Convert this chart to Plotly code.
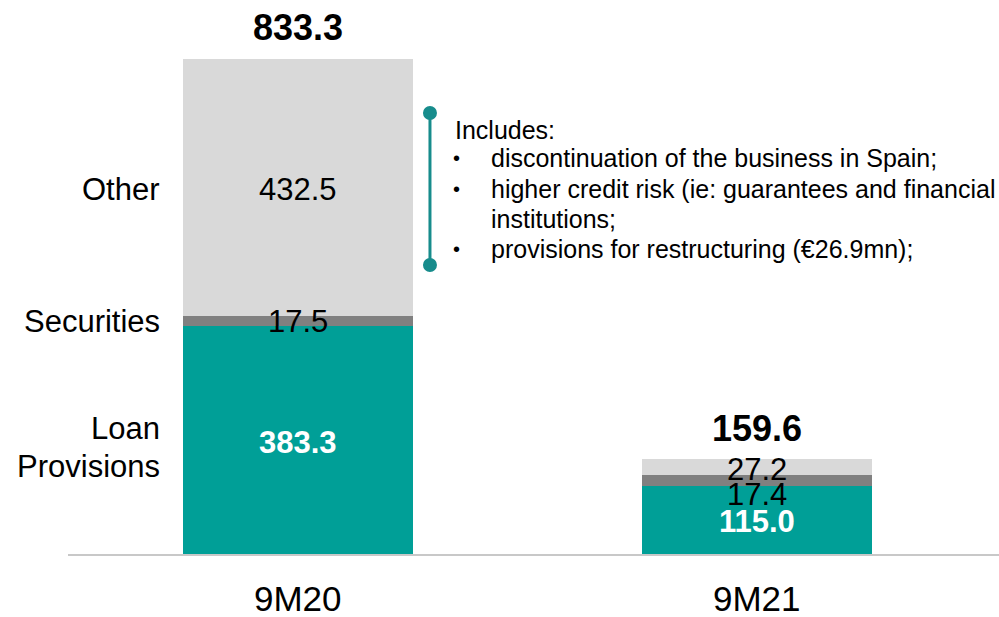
import plotly.graph_objects as go

# Data
periods = ["9M20", "9M21"]
loan_provisions = [383.3, 115.0]
securities = [17.5, 17.4]
other = [432.5, 27.2]
note_title = "Includes:"
note_items = [
    "discontinuation of the business in Spain;",
    "higher credit risk (ie: guarantees and financial",
    "institutions;",
    "provisions for restructuring (€26.9mn);",
]

FONT = "Liberation Sans, Arial, sans-serif"
TEAL = "#009F97"
GREY_DARK = "#808080"
GREY_LIGHT = "#D9D9D9"

fig = go.Figure()
for vals, color in [(loan_provisions, TEAL), (securities, GREY_DARK), (other, GREY_LIGHT)]:
    fig.add_trace(go.Bar(
        x=periods, y=vals, marker=dict(color=color, line=dict(width=0)),
        width=0.501, hoverinfo="skip", showlegend=False
    ))

annotations = []

# segment value labels
for i, p in enumerate(periods):
    lp, sc, ot = loan_provisions[i], securities[i], other[i]
    annotations.append(dict(x=p, y=lp / 2, text=f"<b>{lp:.1f}</b>",
                            font=dict(size=31, color="white", family=FONT), yshift=-2))
    annotations.append(dict(x=p, y=lp + sc / 2, text=f"{sc:.1f}",
                            font=dict(size=31, color="black", family=FONT),
                            yshift=0 if i == 0 else -14))
    annotations.append(dict(x=p, y=lp + sc + ot / 2, text=f"{ot:.1f}",
                            font=dict(size=31, color="black", family=FONT),
                            yshift=-2))
    total = lp + sc + ot
    annotations.append(dict(x=p, y=total, text=f"<b>{total:.1f}</b>",
                            font=dict(size=36, color="black", family=FONT), yshift=31))
    annotations.append(dict(x=p, y=-0.0812, yref="paper", text=p,
                            font=dict(size=35, color="black", family=FONT)))

# series names on the left, aligned with first bar's segments
lp, sc, ot = loan_provisions[0], securities[0], other[0]
left_labels = [("Loan", lp / 2, 12), ("Provisions", lp / 2, -26),
               ("Securities", lp + sc / 2, 0), ("Other", lp + sc + ot / 2, -2)]
for txt, yv, ys in left_labels:
    annotations.append(dict(x=0.101, xref="paper", y=yv, text=txt, xanchor="right",
                            yshift=ys, font=dict(size=31, color="black", family=FONT)))

# note text
annotations.append(dict(x=0.4135, xref="paper", y=0.7653, yref="paper", text=note_title,
                        xanchor="left", font=dict(size=25, color="black", family=FONT)))
note_y = [0.7148, 0.6588, 0.6047, 0.5505]
for txt, yv, bullet in zip(note_items, note_y, [True, True, False, True]):
    if bullet:
        annotations.append(dict(x=0.4178, xref="paper", y=yv, yref="paper", text="•",
                                xanchor="center", font=dict(size=20, color="black", family=FONT)))
    annotations.append(dict(x=0.4522, xref="paper", y=yv, yref="paper", text=txt,
                            xanchor="left", font=dict(size=25, color="black", family=FONT)))

for a in annotations:
    a.setdefault("xref", "x")
    a.setdefault("yref", "y")
    a.setdefault("xanchor", "center")
    a.setdefault("yanchor", "middle")
    a["showarrow"] = False

# bracket
BR = "#178C8C"
shapes = [
    dict(type="line", xref="paper", yref="paper", x0=0.3888, x1=0.3888, y0=0.5217, y1=0.796,
         line=dict(color=BR, width=3)),
]
for yv in [0.5217, 0.796]:
    shapes.append(dict(type="circle", xref="paper", yref="paper", xsizemode="pixel",
                       ysizemode="pixel", xanchor=0.3888, yanchor=yv,
                       x0=-7, x1=7, y0=-7, y1=7, fillcolor=BR, line=dict(color=BR, width=0)))

fig.update_layout(
    barmode="stack",
    width=999, height=617,
    margin=dict(l=68, r=0, t=0, b=63),
    plot_bgcolor="white", paper_bgcolor="white",
    xaxis=dict(range=[-0.501, 1.527], showticklabels=False, showgrid=False, zeroline=False,
               showline=True, linecolor="#C8C8C8", linewidth=2, ticks=""),
    yaxis=dict(range=[0, 932.6], visible=False),
    annotations=annotations,
    shapes=shapes,
    font=dict(family=FONT),
)

fig.write_html("out.html", config={"displayModeBar": False},
               post_script="document.body.style.margin='0';")
